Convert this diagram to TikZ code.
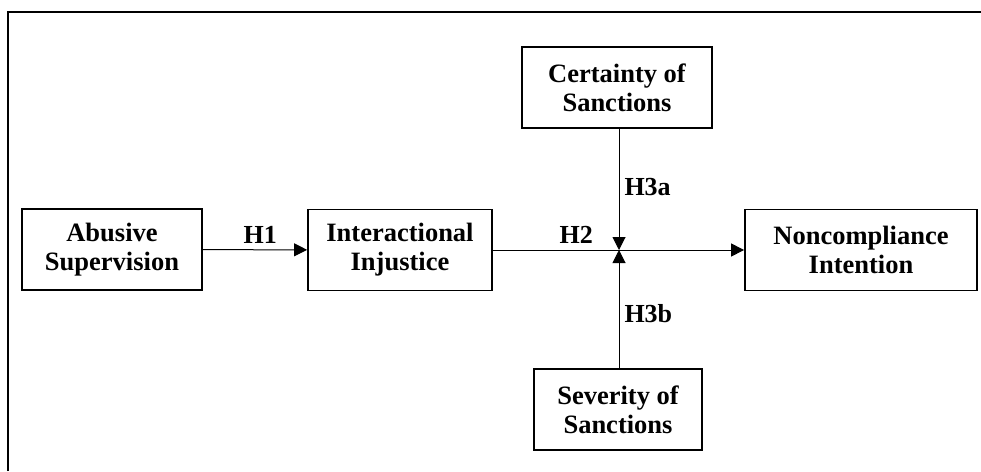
\documentclass[tikz,border=0pt]{standalone}
\usepackage{fontspec}
\setmainfont{Liberation Serif}
\usetikzlibrary{arrows.meta}
\tikzset{
	blk/.style={draw, line width=1.8pt, align=center, minimum height=81pt, inner sep=0pt, font=\fontsize{26.5}{29}\selectfont\bfseries},
	conn/.style={-{Triangle[length=13pt,width=13pt]}, line width=1pt},
	hyp/.style={font=\fontsize{26}{29}\selectfont\bfseries, inner sep=4pt}
}
\begin{document}
\begin{tikzpicture}[x=1pt,y=-1pt]
		\useasboundingbox (0,0) rectangle (981,471);
		\draw [line width=2.5pt] (8,471) -- (8,12) -- (981,12);
		
		\node [blk, minimum width=180pt] (abuse) at (112,249.5) {Abusive\\Supervision};
		\node [blk, minimum width=184pt] (inter) at (400,250) {Interactional\\Injustice};
		\node [blk, minimum width=232pt] (nonc) at (861,250) {Noncompliance\\Intention};
		\node [blk, minimum width=190pt] (cert) at (617,87.5) {Certainty of\\Sanctions};
		\node [blk, minimum width=168pt] (sev) at (618,409.5) {Severity of\\Sanctions};
		
		\coordinate (j) at (619,250);
		
		\draw [conn] (abuse) -- node [hyp, above=2pt, pos=0.55] {H1} (inter);
		\draw [line width=1pt] (inter) -- node [hyp, above=2pt, pos=0.66] {H2} (j);
		\draw [conn] (j) -- (nonc);
		
		\draw [conn] (cert.south -| j) -- node [hyp, right=1pt, pos=0.48] {H3a} (j);
		\draw [conn] (sev.north -| j) -- node [hyp, right=1pt, pos=0.46] {H3b} (j);
		
\end{tikzpicture}
\end{document}
